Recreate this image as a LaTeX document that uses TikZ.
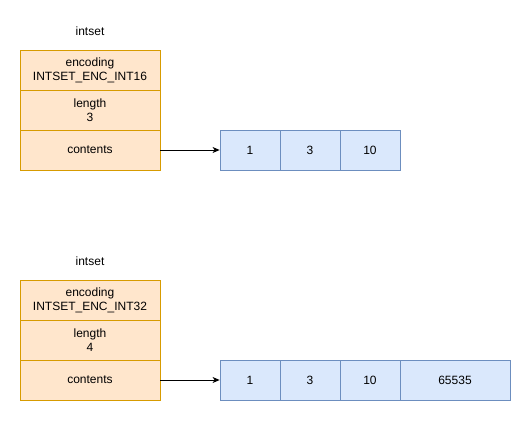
\documentclass[tikz,border=0pt]{standalone}
\usepackage{fontspec}
\setmainfont{Liberation Sans}
\usetikzlibrary{arrows.meta}
\definecolor{ofill}{HTML}{FFE6CC}
\definecolor{odraw}{HTML}{D79B00}
\definecolor{bfill}{HTML}{DAE8FC}
\definecolor{bdraw}{HTML}{6C8EBF}
\tikzset{
  field/.style={draw=odraw, fill=ofill, line width=0.8pt, minimum width=140pt, minimum height=40pt, inner sep=0pt, align=center, font=\fontsize{12pt}{14pt}\selectfont},
  cell/.style={draw=bdraw, fill=bfill, line width=0.8pt, minimum width=60pt, minimum height=40pt, inner sep=0pt, font=\fontsize{12pt}{14pt}\selectfont},
  title/.style={font=\fontsize{12pt}{14pt}\selectfont},
  ptr/.style={line width=0.8pt, -{Stealth[length=7pt, width=6pt, inset=2pt]}}
}
\begin{document}
\begin{tikzpicture}[x=1pt, y=-1pt]
\useasboundingbox (0,0) rectangle (531,421);
% top
\node[title] (t1) at (90,31) {intset};
\node[field] (e1) at (90,70) {encoding\\INTSET\_ENC\_INT16};
\node[field] (l1) at (90,110) {length\\3};
\node[field] (c1) at (90,150) {contents};
\node[cell] (a1) at (250,150) {1};
\node[cell] (a2) at (310,150) {3};
\node[cell] (a3) at (370,150) {10};
\draw[ptr] (c1.east) -- (a1.west);
% bottom
\node[title] (t2) at (90,261) {intset};
\node[field] (e2) at (90,300) {encoding\\INTSET\_ENC\_INT32};
\node[field] (l2) at (90,340) {length\\4};
\node[field] (c2) at (90,380) {contents};
\node[cell] (b1) at (250,380) {1};
\node[cell] (b2) at (310,380) {3};
\node[cell] (b3) at (370,380) {10};
\node[cell, minimum width=110pt] (b4) at (455,380) {65535};
\draw[ptr] (c2.east) -- (b1.west);
\end{tikzpicture}
\end{document}
